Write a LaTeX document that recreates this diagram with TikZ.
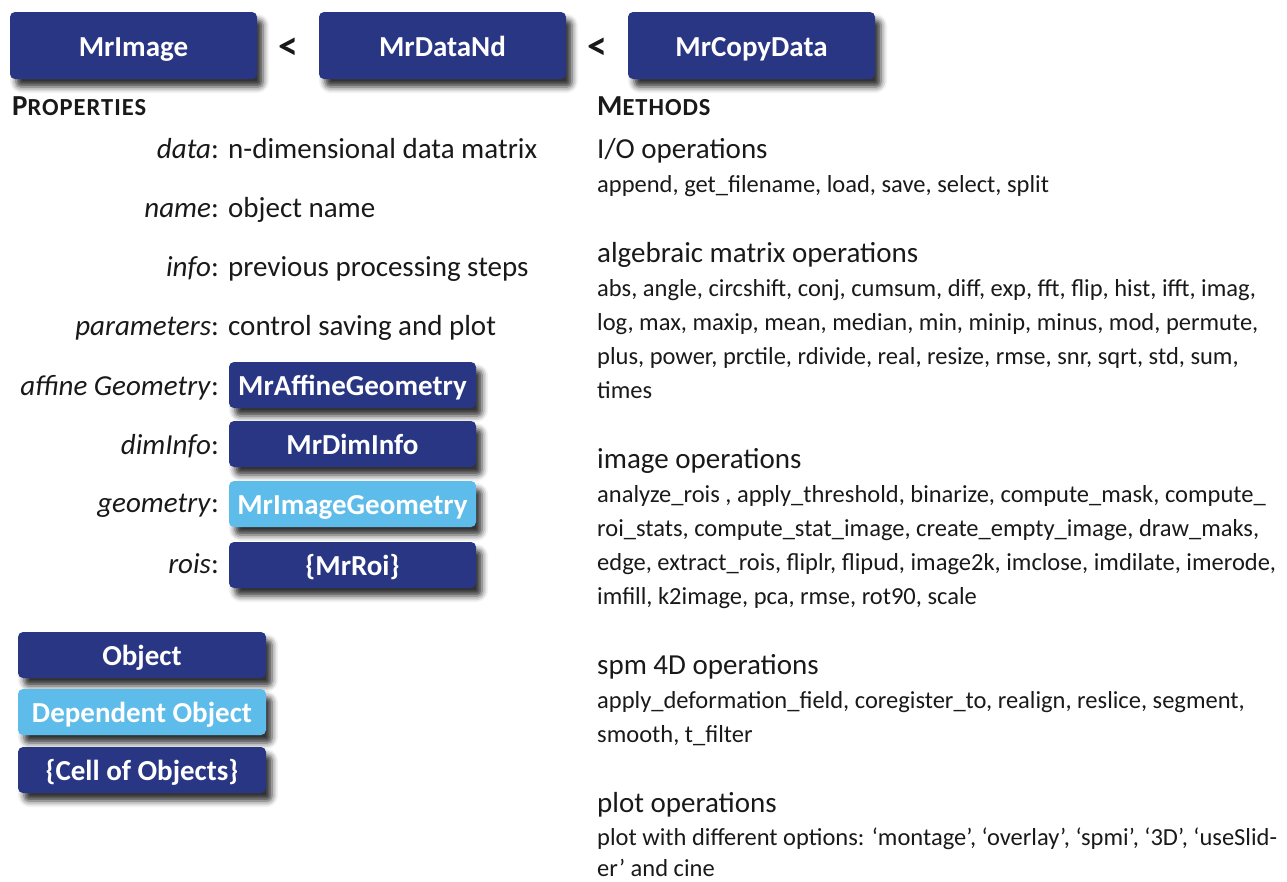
\documentclass[tikz,border=0pt]{standalone}
\usepackage{fontspec}
\setmainfont{Carlito}
\usetikzlibrary{shadows.blur}

\definecolor{objblue}{RGB}{41,54,132}
\definecolor{depblue}{RGB}{93,188,234}
\definecolor{ink}{RGB}{25,25,25}

\tikzset{
  objbox/.style={fill=objblue, rounded corners=5pt, inner sep=0pt, text=white,
    font=\fontsize{29}{34}\selectfont\bfseries, text height=20.5pt, text depth=0pt,
    blur shadow={shadow xshift=6pt, shadow yshift=-8pt,
                 shadow blur radius=6pt, shadow opacity=80}},
  depbox/.style={fill=depblue},
  topbox/.style={objbox, minimum width=247pt, minimum height=67pt, text height=22pt},
  propbox/.style={objbox, minimum width=247pt, minimum height=46pt},
  legbox/.style={objbox, minimum width=248pt, minimum height=46pt},
  lt/.style={inner sep=0pt, text=ink, font=\fontsize{40}{44}\selectfont\bfseries},
  big/.style={anchor=base west, inner sep=0pt, text=ink, font=\fontsize{29}{34}\selectfont},
  small/.style={anchor=base west, inner sep=0pt, text=ink, font=\fontsize{24.5}{30}\selectfont},
  plabel/.style={anchor=base east, inner sep=0pt, text=ink, font=\fontsize{29}{34}\selectfont},
  head/.style={anchor=base west, inner sep=0pt, text=ink},
}

% bold heading with a large initial and small capitals after it
\newcommand{\smallcapshead}[2]{{\fontsize{29}{34}\selectfont\bfseries #1\fontsize{24.5}{28}\selectfont\addfontfeature{LetterSpace=4}#2}}

\begin{document}
\begin{tikzpicture}[x=1pt, y=-1pt]
  \useasboundingbox (0,0) rectangle (1287,881);

  % class hierarchy
  \node[topbox] (mrimage)    at (133.5,45.5) {MrImage};
  \node[topbox] (mrdatand)   at (442.5,45.5) {MrDataNd};
  \node[topbox] (mrcopydata) at (751.5,45.5) {MrCopyData};
  \node[lt] (lt1) at (288,49) {<};
  \node[lt] (lt2) at (597.5,49) {<};

  % section headings
  \node[head] (props)   at (12,115)  {\smallcapshead{P}{ROPERTIES}};
  \node[head] (methods) at (597,115) {\smallcapshead{M}{ETHODS}};

  % properties with plain values
  \node[plabel] (ldata)   at (219,158) {\textit{data}:};
  \node[big]    (vdata)   at (228,158) {n-dimensional data matrix};
  \node[plabel] (lname)   at (219,217) {\textit{name}:};
  \node[big]    (vname)   at (228,217) {object name};
  \node[plabel] (linfo)   at (219,276) {\textit{info}:};
  \node[big]    (vinfo)   at (228,276) {previous processing steps};
  \node[plabel] (lparams) at (219,335) {\textit{parameters}:};
  \node[big]    (vparams) at (228,335) {control saving and plot};

  % properties holding objects
  \node[propbox]         (affine)  at (352.5,385) {MrAffineGeometry};
  \node[propbox]         (diminfo) at (352.5,444) {MrDimInfo};
  \node[propbox,depbox]  (geom)    at (352.5,504) {MrImageGeometry};
  \node[propbox]         (rois)    at (352.5,565) {\{MrRoi\}};
  \node[plabel] (laffine)  at (219,395) {\textit{affine Geometry}:};
  \node[plabel] (ldiminfo) at (219,454) {\textit{dimInfo}:};
  \node[plabel] (lgeom)    at (219,512) {\textit{geometry}:};
  \node[plabel] (lrois)    at (219,573) {\textit{rois}:};

  % legend
  \node[legbox]        (lobj)  at (142,655) {Object};
  \node[legbox,depbox] (ldep)  at (142,712) {Dependent Object};
  \node[legbox]        (lcell) at (142,770) {\{Cell of Objects\}};

  % methods
  \node[big]   (hio) at (597,158) {I/O operations};
  \node[small] (io1) at (597,192) {append, get\_filename, load, save, select, split};

  \node[big]   (halg) at (597,262) {algebraic matrix operations};
  \node[small] (alg1) at (597,296) {abs, angle, circshift, conj, cumsum, diff, exp, fft, flip, hist, ifft, imag,};
  \node[small] (alg2) at (597,330) {log, max, maxip, mean, median, min, minip, minus, mod, permute,};
  \node[small] (alg3) at (597,364) {plus, power, prctile, rdivide, real, resize, rmse, snr, sqrt, std, sum,};
  \node[small] (alg4) at (597,398) {times};

  \node[big]   (himg) at (597,468) {image operations};
  \node[small] (img1) at (597,502) {analyze\_rois , apply\_threshold, binarize, compute\_mask, compute\_};
  \node[small] (img2) at (597,536) {roi\_stats, compute\_stat\_image, create\_empty\_image, draw\_maks,};
  \node[small] (img3) at (597,570) {edge, extract\_rois, fliplr, flipud, image2k, imclose, imdilate, imerode,};
  \node[small] (img4) at (597,604) {imfill, k2image, pca, rmse, rot90, scale};

  \node[big]   (hspm) at (597,674) {spm 4D operations};
  \node[small] (spm1) at (597,708) {apply\_deformation\_field, coregister\_to, realign, reslice, segment,};
  \node[small] (spm2) at (597,742) {smooth, t\_filter};

  \node[big]   (hplot) at (597,812) {plot operations};
  \node[small] (plot1) at (597,845) {plot with different options: ‘montage’, ‘overlay’, ‘spmi’, ‘3D’, ‘useSlid-};
  \node[small] (plot2) at (597,876) {er’ and cine};
\end{tikzpicture}
\end{document}
